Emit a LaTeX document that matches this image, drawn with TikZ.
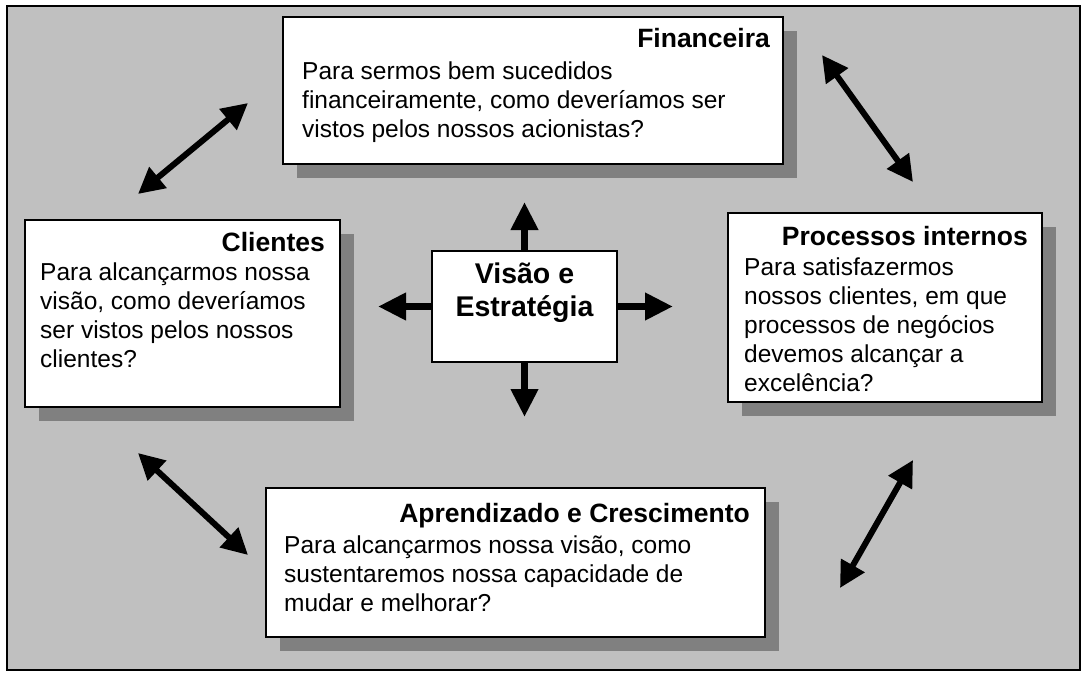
\documentclass[tikz,border=0pt]{standalone}
\usepackage{fontspec}
\setmainfont{Liberation Sans}
\usepackage{tikz}
\usetikzlibrary{arrows.meta}
\usetikzlibrary{shadows}
\definecolor{bggray}{RGB}{192,192,192}
\definecolor{shadowgray}{RGB}{128,128,128}
\tikzset{
	perspbox/.style={draw, line width=2pt, fill=white, inner sep=0pt},
	shadowbox/.style={perspbox, drop shadow={shadow xshift=14pt, shadow yshift=-14pt, fill=shadowgray, opacity=1}},
	titletext/.style={inner sep=0pt, font=\fontsize{26.5}{29}\selectfont\bfseries},
	bodytext/.style={inner sep=0pt, align=left, font=\fontsize{24.5}{29}\selectfont},
	bigarrow/.style={line width=7pt, -{Triangle[length=28pt, width=26pt]}},
	twoarrow/.style={line width=6pt, {Triangle[length=26pt, width=26pt]}-{Triangle[length=26pt, width=26pt]}}
}

\begin{document}
\begin{tikzpicture}[x=1pt, y=-1pt]
	\useasboundingbox (0,0) rectangle (1087,677);
	\draw[line width=2.5pt, fill=bggray] (7,6) rectangle (1080,670);

	\node[shadowbox, minimum width=500pt, minimum height=147pt] (fin) at (533,90.5) {};
	\node[shadowbox, minimum width=315pt, minimum height=187pt] (cli) at (182.5,313.5) {};
	\node[shadowbox, minimum width=314pt, minimum height=189pt] (pro) at (885,307.5) {};
	\node[shadowbox, minimum width=499pt, minimum height=149pt] (apr) at (515.5,562.5) {};
	\node[perspbox, minimum width=185pt, minimum height=111pt] (vis) at (524.5,306.5) {};

	\node[titletext, anchor=base east] (fintitle) at (770,48) {Financeira};
	\node[bodytext, anchor=north west] (finbody) at (302,62)
	{Para sermos bem sucedidos\\financeiramente, como deveríamos ser\\vistos pelos nossos acionistas?};
	\node[titletext, anchor=base east] (clititle) at (325,251) {Clientes};
	\node[bodytext, anchor=north west] (clibody) at (40,263)
	{Para alcançarmos nossa\\visão, como deveríamos\\ser vistos pelos nossos\\clientes?};
	\node[titletext, anchor=base east] (protitle) at (1028,245) {Processos internos};
	\node[bodytext, anchor=north west] (probody) at (744,258)
	{Para satisfazermos\\nossos clientes, em que\\processos de negócios\\devemos alcançar a\\excelência?};
	\node[titletext, anchor=base east] (aprtitle) at (750,522) {Aprendizado e Crescimento};
	\node[bodytext, anchor=north west] (aprbody) at (284,536)
	{Para alcançarmos nossa visão, como\\sustentaremos nossa capacidade de\\mudar e melhorar?};
	\node[align=center, inner sep=0pt, font=\fontsize{28.5}{33}\selectfont\bfseries, anchor=north] (vistext) at (524.5,263)
	{Visão e\\Estratégia};

	\coordinate (visup) at (524.5,202);
	\coordinate (visdown) at (524.5,417);
	\coordinate (visleft) at (378,306.5);
	\coordinate (visright) at (673,306.5);
	\foreach \s/\t in {north/visup, south/visdown, west/visleft, east/visright}
	\draw[bigarrow] (vis.\s) -- (\t);

	\coordinate (fincliA) at (138,194);
	\coordinate (fincliB) at (248,103);
	\coordinate (finproA) at (822,55);
	\coordinate (finproB) at (913,182);
	\coordinate (cliaprA) at (138,453);
	\coordinate (cliaprB) at (248,555);
	\coordinate (aprproA) at (840,588);
	\coordinate (aprproB) at (913,460);
	\foreach \a/\b in {fincliA/fincliB, finproA/finproB, cliaprA/cliaprB, aprproA/aprproB}
	\draw[twoarrow] (\a) -- (\b);
\end{tikzpicture}
\end{document}
